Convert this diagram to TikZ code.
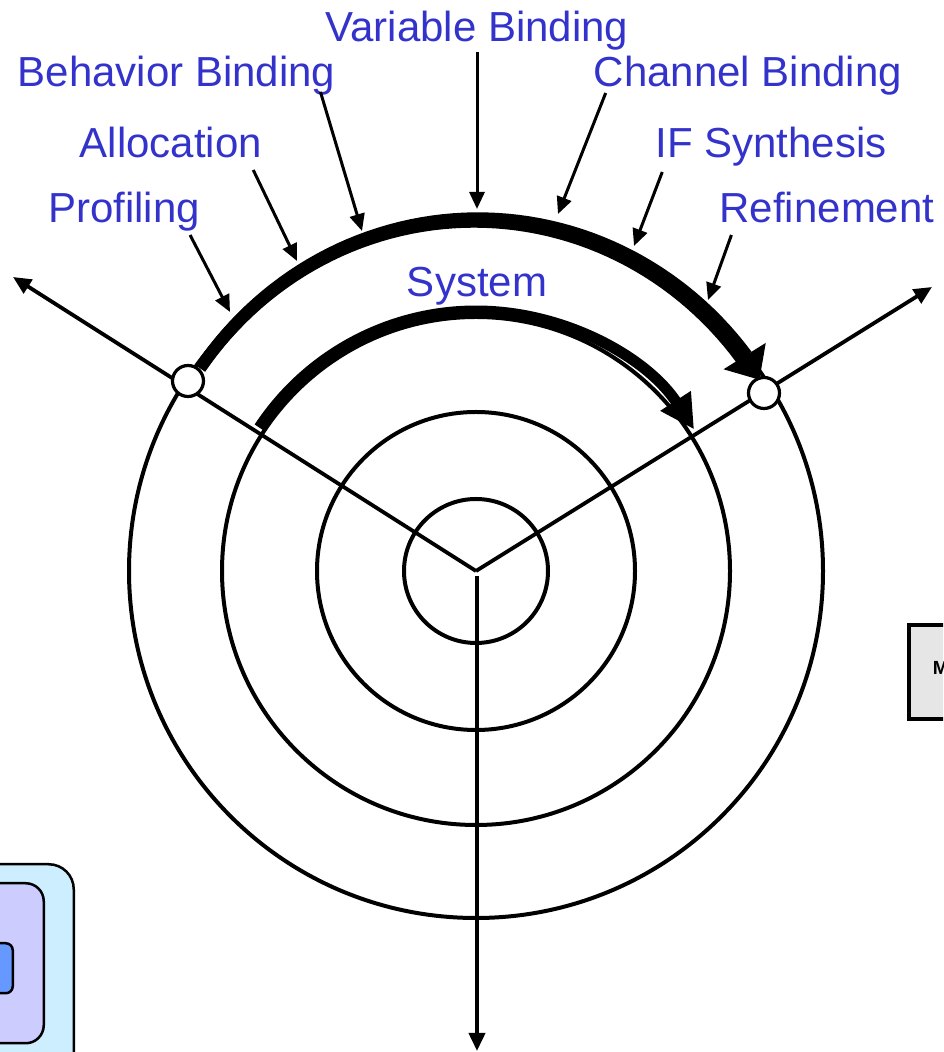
\documentclass[tikz,border=0pt]{standalone}
\usepackage{fontspec}
\setmainfont{Liberation Sans}
\usetikzlibrary{arrows.meta, positioning, calc}

\definecolor{labelblue}{RGB}{51,51,204}
\definecolor{outerblue}{RGB}{204,238,255}
\definecolor{midlilac}{RGB}{204,204,255}
\definecolor{innerblue}{RGB}{102,153,255}
\definecolor{panelgray}{RGB}{230,230,230}

\begin{document}
\begin{tikzpicture}[
    x=1pt, y=1pt,
    every node/.style={font=\fontsize{42}{48}\selectfont},
    lbl/.style={text=labelblue, inner sep=0pt, anchor=base},
    ring/.style={line width=4pt},
    axis/.style={line width=3.8pt, -{Triangle[length=18pt, width=16pt]}},
    pointer/.style={line width=3pt, -{Triangle[length=17pt, width=15pt]}},
    phase/.style={line width=12pt, -{Triangle[length=28pt, width=48pt]}},
    cycle/.style={line width=11pt, -{Triangle[length=34pt, width=34pt]}},
    port/.style={circle, draw, line width=3.2pt, fill=white, minimum size=31pt, inner sep=0pt},
    box/.style={draw, line width=2.5pt, inner sep=0pt},
]
\useasboundingbox (0,0) rectangle (943,1052);
\clip (0,0) rectangle (943,1052);

% cut-off panels at the edges
\node[box, fill=outerblue, rounded corners=25pt, anchor=north east, minimum width=120pt, minimum height=240pt] (outerbox) at (75,189) {};
\node[box, fill=midlilac, rounded corners=18pt, anchor=north east, minimum width=90pt, minimum height=160pt] (midbox) at (45,170) {};
\node[box, fill=innerblue, rounded corners=7pt, anchor=north east, minimum width=40pt, minimum height=50pt] (innerbox) at (14,110) {};
\node[box, fill=panelgray, line width=4pt, anchor=north west, minimum width=100pt, minimum height=94pt] (panel) at (907,429) {};
\node[font=\fontsize{19}{22}\selectfont\bfseries, anchor=west, inner sep=0pt] (panelM) at (932.7,384) {M};

% rings
\coordinate (c) at (476,481);
\draw[ring] (c) circle[radius=72];
\draw[ring] (c) circle[radius=159];
\draw[ring] (c) circle[radius=254];
\draw[ring] (c) circle[radius=347];

% axes
\coordinate (leftEnd) at (13,775);
\coordinate (rightEnd) at (932,765);
\coordinate (downStart) at (477,476);
\coordinate (downEnd) at (477,1);
\draw[axis] (c) -- (leftEnd);
\draw[axis] (c) -- (rightEnd);
\draw[axis] (downStart) -- (downEnd);

% phase arcs (outer one widens towards its head)
\fill plot[domain=144.7:37.5, samples=60] ({476+(338+7.7+2*cos(\x))*cos(\x)}, {481+(351+7.7+2*cos(\x))*sin(\x)})
  -- plot[domain=37.5:144.7, samples=60] ({476+(338-7.7-2*cos(\x))*cos(\x)}, {481+(351-7.7-2*cos(\x))*sin(\x)}) -- cycle;
\draw[phase] ([shift={(144.7:338 and 351)}]c) arc[start angle=144.7, end angle=33, x radius=338, y radius=351];
\draw[cycle] ([shift={(146.5:260)}]c) arc[start angle=146.5, end angle=33, radius=260];

\node[port] (portL) at (188,671) {};
\node[port] (portR) at (764,659) {};

% labels
\node[lbl] (varb) at (477,1010) {Variable Binding};
\node[lbl] (behav) at (176.5,965) {Behavior Binding};
\node[lbl] (chan) at (748,965) {Channel Binding};
\node[lbl] (alloc) at (171,894) {Allocation};
\node[lbl] (ifs) at (771,894) {IF Synthesis};
\node[lbl] (prof) at (124,829) {Profiling};
\node[lbl] (refi) at (827,829) {Refinement};
\node[lbl] (sys) at (477,755) {System};

% tips on the arc
\coordinate (tVar) at (477,843);
\coordinate (tBeh) at (362,821);
\coordinate (tAll) at (297,791);
\coordinate (tPro) at (230,740);
\coordinate (tCha) at (558,838);
\coordinate (tIfs) at (634,806);
\coordinate (tRef) at (708,752);

\draw[pointer] ([yshift=-10pt]varb.base) -- (tVar);
\draw[pointer] ([shift={(-15,-5)}]behav.base east) -- (tBeh);
\draw[pointer] ([shift={(-9,-12)}]alloc.base east) -- (tAll);
\draw[pointer] ([shift={(-10,-12)}]prof.base east) -- (tPro);
\draw[pointer] ([shift={(12,-6)}]chan.base west) -- (tCha);
\draw[pointer] ([shift={(7,-14)}]ifs.base west) -- (tIfs);
\draw[pointer] ([shift={(12,-12)}]refi.base west) -- (tRef);

\end{tikzpicture}
\end{document}
